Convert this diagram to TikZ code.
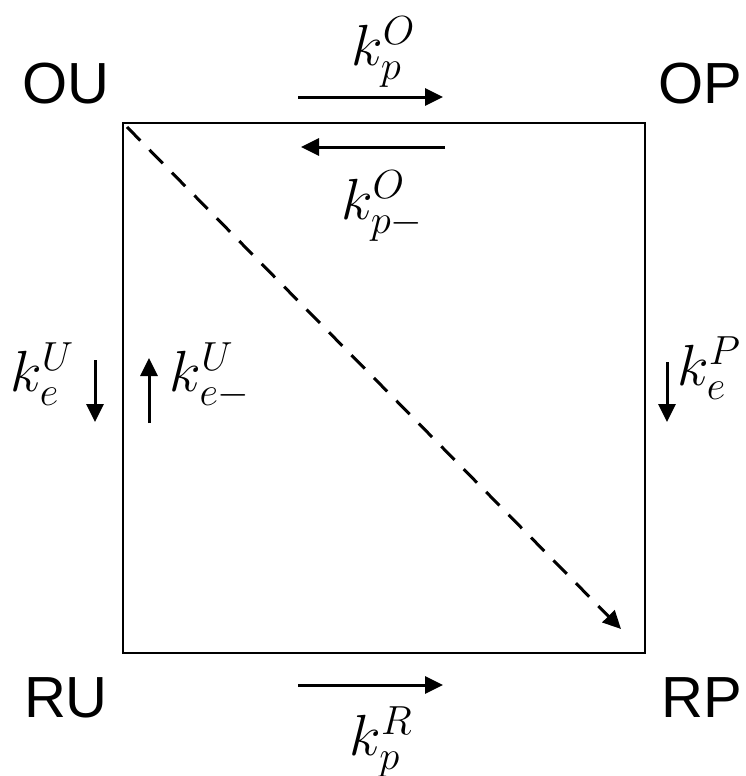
\RequirePackage{fix-cm}
\documentclass[tikz,border=0pt]{standalone}
\usepackage{fontspec}
\setmainfont{Liberation Sans}
\usetikzlibrary{arrows.meta}
\begin{document}
\begin{tikzpicture}[x=1pt, y=-1pt,
  state/.style={font=\fontsize{58}{60}\selectfont, inner sep=0pt},
  rate/.style={font=\fontsize{58}{60}\selectfont, inner sep=0pt},
  flux/.style={-{Triangle[length=18pt,width=17pt]}, line width=3pt}]
  \useasboundingbox (0,0) rectangle (745,776);
  % square
  \coordinate (nw) at (123,123);
  \coordinate (se) at (645,653);
  \draw[line width=2.5pt] (nw) rectangle (se);
  % states
  \node[state] (ou) at (66,84) {OU};
  \node[state] (op) at (700,84) {OP};
  \node[state] (ru) at (66,698) {RU};
  \node[state] (rp) at (702,698) {RP};
  % top edge
  \coordinate (a1) at (298,97);
  \coordinate (a2) at (443,97);
  \coordinate (b1) at (445,147);
  \coordinate (b2) at (301,147);
  \draw[flux] (a1) -- (a2);
  \draw[flux] (b1) -- (b2);
  \node[rate] (kpO) at (383,52) {$k_{p}^{O}$};
  \node[rate] (kpmO) at (382,206) {$k_{p-}^{O}$};
  % left edge
  \coordinate (c1) at (95,360);
  \coordinate (c2) at (95,422);
  \coordinate (d1) at (149,423);
  \coordinate (d2) at (149,358);
  \draw[flux] (c1) -- (c2);
  \draw[flux] (d1) -- (d2);
  \node[rate] (keU) at (42,374) {$k_{e}^{U}$};
  \node[rate] (kemU) at (210,376) {$k_{e-}^{U}$};
  % right edge
  \coordinate (e1) at (667,362);
  \coordinate (e2) at (667,422);
  \draw[flux] (e1) -- (e2);
  \node[rate] (keP) at (709,368) {$k_{e}^{P}$};
  % bottom edge
  \coordinate (f1) at (298,685);
  \coordinate (f2) at (443,685);
  \draw[flux] (f1) -- (f2);
  \node[rate] (kpR) at (381,742) {$k_{p}^{R}$};
  % diagonal
  \coordinate (g1) at (127,127);
  \coordinate (g2) at (621,629);
  \draw[flux, dash pattern=on 19pt off 13pt] (g1) -- (g2);
\end{tikzpicture}
\end{document}
